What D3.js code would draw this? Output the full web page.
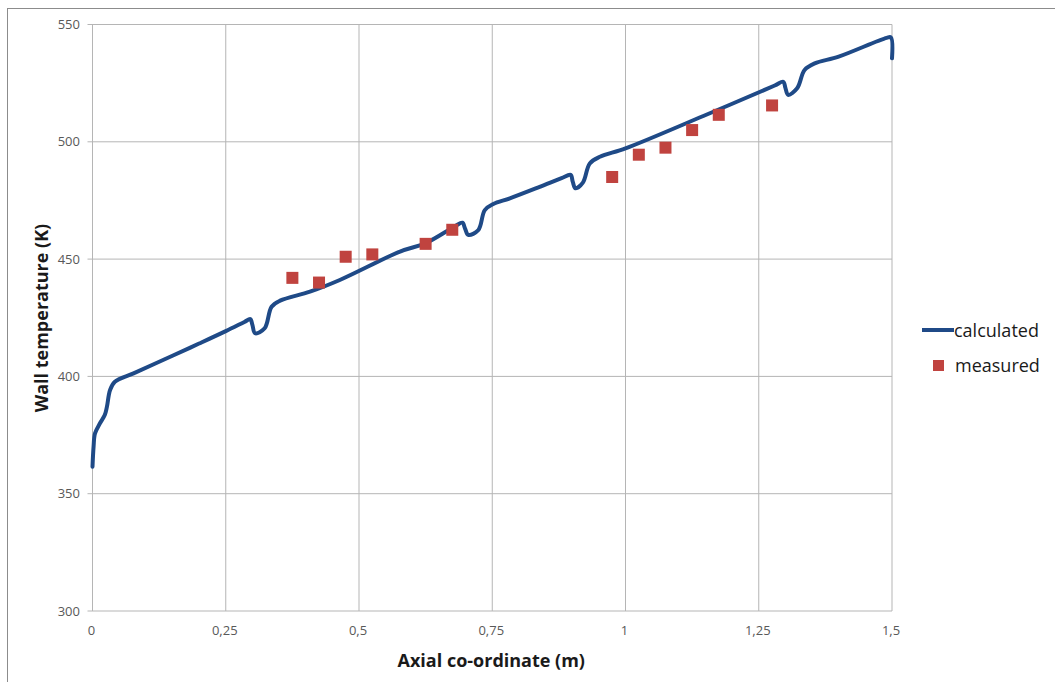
<!DOCTYPE html>
<html>
<head>
<meta charset="utf-8">
<script src="https://cdn.jsdelivr.net/npm/d3@7"></script>
<style>
  body { margin: 0; background: #fff; }
  text { font-family: "Open Sans", Lato, sans-serif; }
</style>
</head>
<body>
<svg id="chart" width="1055" height="682"></svg>
<script>
// calculated wall temperature along the axis
const calcX = [0, 0.002, 0.0047, 0.014, 0.023, 0.027, 0.033, 0.042, 0.077, 0.15, 0.2, 0.25, 0.285, 0.296, 0.3, 0.305, 0.323, 0.336, 0.352, 0.408, 0.464, 0.577, 0.624, 0.68, 0.694, 0.699, 0.705, 0.724, 0.736, 0.752, 0.783, 0.839, 0.88, 0.897, 0.901, 0.906, 0.92, 0.933, 0.952, 1.0, 1.146, 1.28, 1.296, 1.3, 1.305, 1.322, 1.336, 1.355, 1.4, 1.49, 1.498, 1.5];
const calcY = [361.5, 370, 375.7, 380, 383.5, 387, 394.2, 397.7, 401.3, 408.8, 414, 419.3, 423.2, 424.4, 422, 418.4, 420.5, 429.7, 432.3, 436.1, 441.1, 453.2, 456.7, 464, 465.5, 463, 460.3, 462.4, 470.9, 473.5, 475.9, 480.8, 484.5, 485.9, 483, 480.2, 482.6, 490.8, 493.6, 497.2, 511, 524, 525.6, 523, 520, 522.8, 530.6, 533.4, 536.3, 544.3, 544.5, 535.6];

// measured points
const measX = [0.375, 0.425, 0.475, 0.525, 0.625, 0.675, 0.975, 1.025, 1.075, 1.125, 1.175, 1.275];
const measY = [442, 440, 451, 452, 456.5, 462.5, 485, 494.5, 497.5, 505, 511.5, 515.5];

const xTicks = [0, 0.25, 0.5, 0.75, 1, 1.25, 1.5];
const yTicks = [300, 350, 400, 450, 500, 550];
const fmt = d => String(d).replace('.', ',');

const svg = d3.select('#chart');
const plot = { left: 92.5, right: 892, top: 24.5, bottom: 611 };

const x = d3.scaleLinear().domain([0, 1.5]).range([plot.left, plot.right]);
const y = d3.scaleLinear().domain([300, 550]).range([plot.bottom, plot.top]);

// outer border
svg.append('rect')
    .attr('x', 7.5).attr('y', 8.5)
    .attr('width', 1100).attr('height', 700)
    .attr('fill', 'none').attr('stroke', '#8c8c8c');

// ----- grid
svg.append('g').selectAll('line')
    .data(yTicks).enter().append('line')
    .attr('x1', plot.left - 5).attr('x2', plot.right)
    .attr('y1', d => y(d)).attr('y2', d => y(d))
    .attr('stroke', '#b5b5b5').attr('stroke-width', 1);

svg.append('g').selectAll('line')
    .data(xTicks).enter().append('line')
    .attr('x1', d => x(d)).attr('x2', d => x(d))
    .attr('y1', plot.top).attr('y2', plot.bottom)
    .attr('stroke', '#b5b5b5').attr('stroke-width', 1);

// ----- tick labels
svg.append('g').selectAll('text')
    .data(yTicks).enter().append('text')
    .attr('x', 80).attr('y', d => y(d) + 4.5)
    .attr('text-anchor', 'end')
    .attr('font-size', 13).attr('fill', '#595959')
    .text(d => d);

svg.append('g').selectAll('text')
    .data(xTicks).enter().append('text')
    .attr('x', d => x(d) - 1).attr('y', 635)
    .attr('text-anchor', 'middle')
    .attr('font-size', 13).attr('fill', '#595959')
    .text(fmt);

// ----- axis titles
svg.append('text')
    .attr('x', (plot.left + plot.right) / 2 - 1).attr('y', 667)
    .attr('text-anchor', 'middle')
    .attr('font-size', 18).attr('font-weight', 'bold').attr('fill', '#1a1a1a')
    .text('Axial co-ordinate (m)');

svg.append('text')
    .attr('transform', 'translate(48,318) rotate(-90)')
    .attr('text-anchor', 'middle')
    .attr('font-size', 18).attr('font-weight', 'bold').attr('fill', '#1a1a1a')
    .text('Wall temperature (K)');

// ----- calculated line
const calc = calcX.map((d, i) => [d, calcY[i]]);
const line = d3.line()
    .x(d => x(d[0])).y(d => y(d[1]))
    .curve(d3.curveCatmullRom.alpha(0.5));

svg.append('path')
    .datum(calc)
    .attr('d', line)
    .attr('fill', 'none')
    .attr('stroke', '#1f4a87')
    .attr('stroke-width', 4)
    .attr('stroke-linejoin', 'round')
    .attr('stroke-linecap', 'round');

// ----- measured markers
const ms = 12;
svg.append('g').selectAll('rect')
    .data(measX.map((d, i) => [d, measY[i]])).enter().append('rect')
    .attr('x', d => x(d[0]) - ms / 2).attr('y', d => y(d[1]) - ms / 2)
    .attr('width', ms).attr('height', ms)
    .attr('fill', '#c0433f');

// ----- legend
const legend = svg.append('g');
legend.append('line')
    .attr('x1', 922).attr('x2', 954).attr('y1', 330).attr('y2', 330)
    .attr('stroke', '#1f4a87').attr('stroke-width', 4);
legend.append('text')
    .attr('x', 954).attr('y', 337)
    .attr('font-size', 18).attr('fill', '#1a1a1a')
    .text('calculated');
legend.append('rect')
    .attr('x', 933).attr('y', 360).attr('width', 11).attr('height', 11)
    .attr('fill', '#c0433f');
legend.append('text')
    .attr('x', 955).attr('y', 372)
    .attr('font-size', 18).attr('fill', '#1a1a1a')
    .text('measured');
</script>
</body>
</html>
